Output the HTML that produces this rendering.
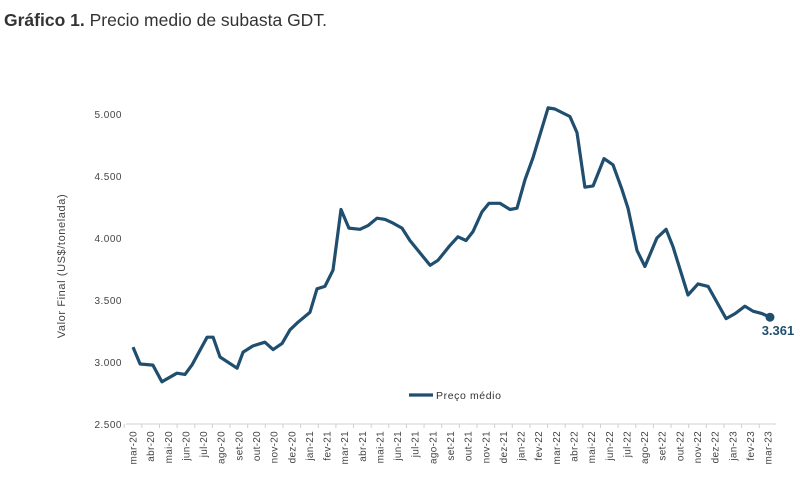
<!DOCTYPE html>
<html><head><meta charset="utf-8"><style>
body{margin:0;background:#fff;width:800px;height:482px;overflow:hidden;font-family:"Liberation Sans",sans-serif}
#title{position:absolute;left:4px;top:10px;font-size:17.5px;color:#333}
</style></head><body>
<div id="title"><b>Gráfico 1.</b> Precio medio de subasta GDT.</div>
<svg id="chart" width="800" height="482" style="position:absolute;left:0;top:0"></svg>
<script>
const months=["mar-20","abr-20","mai-20","jun-20","jul-20","ago-20","set-20","out-20","nov-20","dez-20","jan-21","fev-21","mar-21","abr-21","mai-21","jun-21","jul-21","ago-21","set-21","out-21","nov-21","dez-21","jan-22","fev-22","mar-22","abr-22","mai-22","jun-22","jul-22","ago-22","set-22","out-22","nov-22","dez-22","jan-23","fev-23","mar-23"];
const yTicks=[2500,3000,3500,4000,4500,5000];
const yTickLabels=["2.500","3.000","3.500","4.000","4.500","5.000"];
const t=[0,0.4,1.13,1.64,2.49,2.95,3.34,4.2,4.54,4.93,5.9,6.24,6.8,7.48,7.94,8.45,8.9,9.35,10.03,10.43,10.88,11.34,11.79,12.24,12.87,13.32,13.83,14.29,14.74,15.25,15.7,16.27,16.84,17.29,17.97,18.42,18.88,19.27,19.78,20.18,20.8,21.37,21.77,22.22,22.68,23.53,23.92,24.77,25.17,25.62,26.08,26.7,27.21,27.72,28.06,28.57,29.02,29.7,30.22,30.61,31.46,32.03,32.6,33.11,33.62,34.13,34.69,35.15,35.66,36.11];
const price=[3120,2984,2975,2840,2910,2900,2975,3200,3200,3040,2950,3080,3130,3160,3100,3150,3260,3320,3400,3590,3610,3740,4230,4080,4070,4100,4160,4150,4120,4080,3980,3880,3780,3820,3940,4010,3980,4050,4210,4280,4280,4230,4240,4470,4650,5050,5040,4980,4850,4410,4420,4640,4590,4390,4240,3900,3770,4000,4070,3930,3540,3630,3610,3480,3350,3390,3450,3410,3390,3361];
const lastLabel="3.361";
const NS="http://www.w3.org/2000/svg",svg=document.getElementById('chart');
const X=m=>133+m*17.64, Y=v=>424-(v-2500)/2500*310;
function el(tag,a,txt){const e=document.createElementNS(NS,tag);for(const k in a)e.setAttribute(k,a[k]);if(txt!=null)e.textContent=txt;svg.appendChild(e);return e;}
let e=el('line',{x1:126,x2:776,y1:424,y2:424,stroke:'#d0d0d0','stroke-width':1});


yTicks.forEach((v,i)=>{const l=el('text',{x:122,y:Y(v)+4,'text-anchor':'end','font-size':10,fill:'#444','letter-spacing':'0.5'},yTickLabels[i]);

});
months.forEach((m,i)=>{const x=X(i);
const tk=el('line',{x1:x-8.8,x2:x-8.8,y1:424,y2:428,stroke:'#d0d0d0'});


const l=el('text',{x:0,y:0,'text-anchor':'end','font-size':10,fill:'#444','letter-spacing':'0.3',transform:`translate(${x+3.5},431) rotate(-90)`},m);

});
const yl=el('text',{x:0,y:0,'text-anchor':'middle','font-size':11,fill:'#444','letter-spacing':'0.6',transform:'translate(65,266) rotate(-90)'},'Valor Final (US$/tonelada)');


const pts=t.map((m,i)=>X(m).toFixed(1)+','+Y(price[i]).toFixed(1)).join(' ');
const ln=el('polyline',{points:pts,fill:'none',stroke:'#1f4e6e','stroke-width':3.2,'stroke-linejoin':'round'});


const n=t.length-1;
const dot=el('circle',{cx:X(t[n]),cy:Y(price[n]),r:4.5,fill:'#1f4e6e'});


const lab=el('text',{x:X(t[n])+8,y:Y(price[n])+18,'text-anchor':'middle','font-size':13,'font-weight':'bold',fill:'#1f4e6e'},lastLabel);


const lg=el('line',{x1:409,x2:433,y1:395,y2:395,stroke:'#1f4e6e','stroke-width':3.2});


const lt=el('text',{x:436,y:399,'font-size':10.5,fill:'#333','letter-spacing':'0.6'},'Preço médio');


</script>
</body></html>
